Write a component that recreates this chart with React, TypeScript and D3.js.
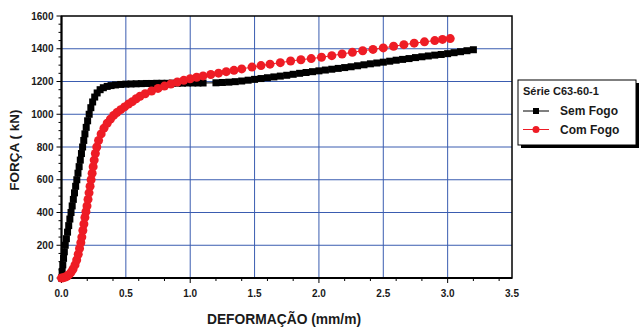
import * as d3 from "d3";

// Série C63-60-1 — [deformação (mm/m), força (kN)]
const semFogo: [number, number][] = [
  [0, 0], [0.005, 40], [0.01, 80], [0.016, 120], [0.022, 160], [0.029, 200], [0.038, 240],
  [0.047, 280], [0.056, 320], [0.065, 360], [0.074, 400], [0.083, 440], [0.092, 480],
  [0.101, 520], [0.11, 560], [0.119, 600], [0.128, 640], [0.137, 680], [0.146, 720],
  [0.155, 760], [0.164, 800], [0.173, 840], [0.182, 880], [0.192, 920], [0.203, 960],
  [0.215, 1000], [0.228, 1040], [0.242, 1075], [0.258, 1105], [0.277, 1130], [0.3, 1150],
  [0.325, 1162], [0.355, 1170], [0.385, 1175], [0.42, 1179], [0.46, 1182], [0.5, 1184],
  [0.54, 1185], [0.58, 1186], [0.62, 1187], [0.66, 1188], [0.7, 1188], [0.74, 1189],
  [0.78, 1189], [0.82, 1189], [0.86, 1190], [0.9, 1190], [0.94, 1190], [0.98, 1191],
  [1.02, 1191], [1.06, 1191], [1.1, 1191],
  [1.2, 1192], [1.25, 1194], [1.3, 1196], [1.35, 1199], [1.4, 1203], [1.45, 1208], [1.5, 1213],
  [1.55, 1218], [1.6, 1223], [1.65, 1228], [1.7, 1233], [1.75, 1238], [1.8, 1244], [1.85, 1250],
  [1.9, 1255], [1.95, 1260], [2.0, 1265], [2.05, 1270], [2.1, 1275], [2.15, 1280], [2.2, 1285],
  [2.25, 1290], [2.3, 1296], [2.35, 1302], [2.4, 1308], [2.45, 1313], [2.5, 1318], [2.55, 1324],
  [2.6, 1330], [2.65, 1335], [2.7, 1340], [2.75, 1346], [2.8, 1351], [2.85, 1356], [2.9, 1361],
  [2.95, 1365], [3.0, 1370], [3.05, 1376], [3.1, 1382], [3.15, 1388], [3.2, 1394],
];

const comFogo: [number, number][] = [
  [0, 0], [0.015, 2], [0.03, 6], [0.045, 12], [0.06, 22], [0.075, 36], [0.09, 55], [0.105, 80],
  [0.118, 110], [0.13, 145], [0.14, 180], [0.15, 215], [0.158, 250], [0.166, 290], [0.174, 330],
  [0.182, 370], [0.19, 405], [0.198, 440], [0.206, 480], [0.214, 520], [0.222, 560], [0.23, 600],
  [0.238, 640], [0.246, 680], [0.254, 720], [0.263, 760], [0.274, 800], [0.288, 840],
  [0.308, 880], [0.33, 915], [0.355, 945], [0.38, 970], [0.405, 993], [0.43, 1010], [0.46, 1028],
  [0.49, 1045], [0.52, 1062], [0.55, 1077], [0.58, 1095], [0.61, 1110], [0.65, 1125],
  [0.7, 1142], [0.75, 1158], [0.8, 1172], [0.85, 1185], [0.9, 1197], [0.95, 1207], [1.0, 1217],
  [1.05, 1226], [1.1, 1234], [1.16, 1243], [1.22, 1251], [1.28, 1260], [1.34, 1268], [1.4, 1277],
  [1.48, 1288], [1.55, 1297], [1.62, 1306], [1.7, 1315], [1.78, 1325], [1.86, 1333], [1.94, 1340],
  [2.02, 1348], [2.1, 1358], [2.18, 1368], [2.26, 1378], [2.34, 1388], [2.42, 1396], [2.5, 1405],
  [2.58, 1415], [2.66, 1425], [2.74, 1434], [2.82, 1442], [2.9, 1450], [2.96, 1457], [3.02, 1462],
];

const xTicks = [0, 0.5, 1.0, 1.5, 2.0, 2.5, 3.0, 3.5];
const yTicks = [0, 200, 400, 600, 800, 1000, 1200, 1400, 1600];

const COLORS = {
  grid: "#3a5cb0",
  axis: "#000",
  text: "#1a1a1a",
  sem: "#000000",
  com: "#ee1c25",
};

const FONT = "'Liberation Sans', Arial, Helvetica, sans-serif";
const W = 640;
const H = 327;
const plot = { left: 61.5, right: 512, top: 16, bottom: 278 };

export default function App() {
  const x = d3.scaleLinear().domain([0, 3.5]).range([plot.left, plot.right]);
  const y = d3.scaleLinear().domain([0, 1600]).range([plot.bottom, plot.top]);

  const line = d3
    .line<[number, number]>()
    .x((d) => x(d[0]))
    .y((d) => y(d[1]));

  const xMinor = x.ticks(14);
  const yMinor = y.ticks(32);
  const sq = 7;

  return (
    <div style={{ position: "fixed", left: 0, top: 0 }}>
      <svg width={W} height={H} style={{ display: "block", background: "#fff" }}>
        {/* grid */}
        <g>
          {xTicks.slice(1, -1).map((t) => (
            <line key={`gx${t}`} x1={x(t)} x2={x(t)} y1={plot.top} y2={plot.bottom}
              stroke={COLORS.grid} strokeWidth={1} />
          ))}
          {yTicks.slice(1, -1).map((t) => (
            <line key={`gy${t}`} x1={plot.left} x2={plot.right} y1={y(t)} y2={y(t)}
              stroke={COLORS.grid} strokeWidth={1} />
          ))}
        </g>

        {/* minor ticks */}
        <g stroke={COLORS.axis} strokeWidth={1}>
          {yMinor.map((t) => (
            <line key={`my${t}`} x1={plot.left - (t % 200 === 0 ? 5 : 3)} x2={plot.left}
              y1={y(t)} y2={y(t)} />
          ))}
          {xMinor.map((t) => (
            <line key={`mx${t}`} x1={x(t)} x2={x(t)} y1={plot.bottom}
              y2={plot.bottom + (Math.abs(t * 2 - Math.round(t * 2)) < 1e-6 ? 5 : 3)} />
          ))}
        </g>

        {/* frame */}
        <rect x={plot.left} y={plot.top} width={plot.right - plot.left} height={plot.bottom - plot.top}
          fill="none" stroke={COLORS.axis} strokeWidth={1.5} />
        <line x1={plot.left} x2={plot.left} y1={plot.top} y2={plot.bottom} stroke={COLORS.axis} strokeWidth={2} />
        <line x1={plot.left} x2={plot.right} y1={plot.bottom} y2={plot.bottom} stroke={COLORS.axis} strokeWidth={2} />

        {/* Sem Fogo */}
        <path d={line(semFogo) ?? ""} fill="none" stroke={COLORS.sem} strokeWidth={1} />
        {semFogo.map((d, i) => (
          <rect key={`s${i}`} x={x(d[0]) - sq / 2} y={y(d[1]) - sq / 2} width={sq} height={sq} fill={COLORS.sem} />
        ))}

        {/* Com Fogo */}
        <path d={line(comFogo) ?? ""} fill="none" stroke={COLORS.com} strokeWidth={1} />
        {comFogo.map((d, i) => (
          <circle key={`c${i}`} cx={x(d[0])} cy={y(d[1])} r={4.5} fill={COLORS.com} />
        ))}

        {/* axis labels */}
        <g fontFamily={FONT} fontWeight="bold" fontSize={10} fill={COLORS.text}>
          {yTicks.map((t) => (
            <text key={`ly${t}`} x={plot.left - 8} y={y(t) + 3.5} textAnchor="end">{t}</text>
          ))}
          {xTicks.map((t) => (
            <text key={`lx${t}`} x={x(t)} y={plot.bottom + 19} textAnchor="middle">{t.toFixed(1)}</text>
          ))}
        </g>

        <text x={284} y={324} textAnchor="middle" fontFamily={FONT} fontWeight="bold" fontSize={13.8}
          fill={COLORS.text}>DEFORMAÇÃO (mm/m)</text>
        <text transform="translate(19,150) rotate(-90)" textAnchor="middle" fontFamily={FONT}
          fontWeight="bold" fontSize={13.5} fill={COLORS.text}>FORÇA ( kN)</text>

        {/* legend */}
        <g fontFamily={FONT} fontWeight="bold" fill={COLORS.text}>
          <rect x={521} y={83} width={118} height={65} fill="#000" />
          <rect x={518} y={80} width={118} height={65} fill="#fff" stroke="#000" strokeWidth={1} />
          <text x={523} y={95} fontSize={11}>Série C63-60-1</text>
          <line x1={523} x2={549} y1={111} y2={111} stroke={COLORS.sem} strokeWidth={1} />
          <rect x={536 - 3} y={111 - 3} width={6} height={6} fill={COLORS.sem} />
          <text x={560} y={115} fontSize={12}>Sem Fogo</text>
          <line x1={523} x2={549} y1={129.5} y2={129.5} stroke={COLORS.com} strokeWidth={1} />
          <circle cx={536} cy={129.5} r={3.5} fill={COLORS.com} />
          <text x={560} y={134} fontSize={12}>Com Fogo</text>
        </g>
      </svg>
    </div>
  );
}
